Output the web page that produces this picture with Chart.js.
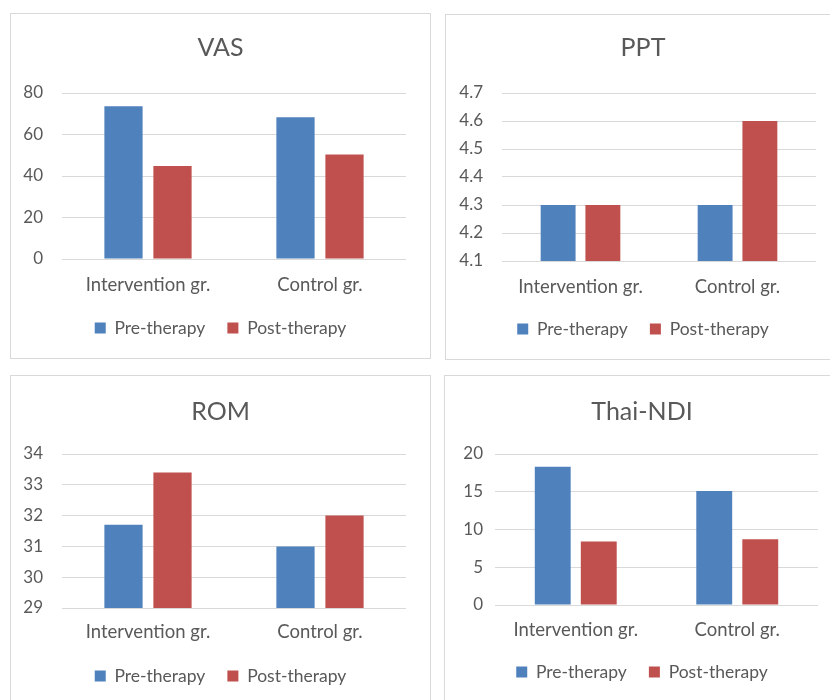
<!DOCTYPE html>
<html>
<head>
<meta charset="utf-8">
<script src="https://cdn.jsdelivr.net/npm/chart.js@4.4.1/dist/chart.umd.min.js"></script>
<style>
  body { margin: 0; width: 830px; height: 700px; overflow: hidden; background: #fff; position: relative; }
  .box { position: absolute; border: 1px solid #d9d9d9; box-sizing: border-box; background: #fff; overflow: hidden; }
  .box canvas { position: absolute; left: 0; top: 0; }
</style>
</head>
<body>
<div class="box" style="left:10px;top:13px;width:421px;height:346px"><canvas id="vas" width="419" height="344"></canvas></div>
<div class="box" style="left:445px;top:14px;width:396px;height:346px"><canvas id="ppt" width="394" height="344"></canvas></div>
<div class="box" style="left:10px;top:375px;width:421px;height:346px"><canvas id="rom" width="419" height="344"></canvas></div>
<div class="box" style="left:444px;top:375px;width:396px;height:346px"><canvas id="ndi" width="394" height="344"></canvas></div>

<script>
// categories and series
var categories = ['Intervention gr.', 'Control gr.'];
var seriesNames = ['Pre-therapy', 'Post-therapy'];

var vasPre = [73.6, 68.3];
var vasPost = [44.8, 50.4];
var pptPre = [4.3, 4.3];
var pptPost = [4.3, 4.6];
var romPre = [31.7, 31.0];
var romPost = [33.4, 32.0];
var ndiPre = [18.3, 15.1];
var ndiPost = [8.4, 8.7];

// y axis ranges: [min, max, step]
var vasAxis = [0, 80, 20];
var pptAxis = [4.1, 4.7, 0.1];
var romAxis = [29, 34, 1];
var ndiAxis = [0, 20, 5];

var blue = '#4F81BD';
var red = '#C0504D';
var textColor = '#595959';
var gridColor = '#D9D9D9';
var fontFamily = 'Lato, "Noto Sans", sans-serif';

Chart.defaults.font.family = fontFamily;
Chart.defaults.color = textColor;

// g: target layout inside the canvas (px)
function makeChart(id, title, pre, post, axis, decimals, g) {
  var canvas = document.getElementById(id);
  var H = canvas.height;
  var W = canvas.width;
  var titleSize = 25, titleLine = titleSize * 1.2;
  var tickSize = 17;
  var labelSize = 18.5, labelLine = labelSize * 1.2;
  var legendSize = 17.5, legendPad = 22;
  var legendH = legendSize + legendPad + 10;
  var xAxisH = g.legend - g.bottom - legendPad - legendSize / 2;
  var titleTop = g.title - titleLine / 2;

  return new Chart(canvas, {
    type: 'bar',
    data: {
      labels: categories,
      datasets: [
        { label: seriesNames[0], data: pre, backgroundColor: blue },
        { label: seriesNames[1], data: post, backgroundColor: red }
      ]
    },
    options: {
      responsive: false,
      animation: false,
      devicePixelRatio: 1,
      datasets: { bar: { categoryPercentage: 0.57, barPercentage: 0.78 } },
      layout: {
        padding: { left: 0, top: 0, right: 0, bottom: H - (g.bottom + xAxisH + legendH) }
      },
      plugins: {
        title: {
          display: true,
          text: title,
          color: textColor,
          font: { size: titleSize, weight: 'normal' },
          padding: { top: titleTop, bottom: g.top - titleTop - titleLine }
        },
        legend: {
          position: 'bottom',
          labels: { boxWidth: 11, boxHeight: 11, padding: legendPad, color: textColor, font: { size: legendSize } }
        },
        tooltip: { enabled: false }
      },
      scales: {
        x: {
          grid: { display: false, drawTicks: false },
          border: { display: false },
          ticks: { color: textColor, font: { size: labelSize }, padding: g.xlabel - g.bottom - labelLine / 2 },
          afterFit: function (s) { s.height = xAxisH; }
        },
        y: {
          min: axis[0],
          max: axis[1],
          grid: { color: gridColor, drawTicks: false },
          border: { display: false },
          ticks: {
            stepSize: axis[2],
            color: textColor,
            font: { size: tickSize },
            padding: g.gap,
            callback: function (v) { return Number(v).toFixed(decimals); }
          },
          afterFit: function (s) { s.width = g.left; }
        },
        // empty right axis, only keeps the right margin so title and legend stay centred on the box
        yRight: {
          position: 'right',
          grid: { display: false, drawTicks: false },
          border: { display: false },
          ticks: { display: false },
          afterFit: function (s) { s.width = W - g.right; }
        }
      }
    }
  });
}

makeChart('vas', 'VAS', vasPre, vasPost, vasAxis, 0,
  { left: 51, right: 395, top: 79, bottom: 245, title: 34, xlabel: 271, legend: 314, gap: 19 });
makeChart('ppt', 'PPT', pptPre, pptPost, pptAxis, 1,
  { left: 56, right: 370, top: 78, bottom: 246, title: 33, xlabel: 272, legend: 314, gap: 19 });
makeChart('rom', 'ROM', romPre, romPost, romAxis, 0,
  { left: 51, right: 395, top: 78, bottom: 232, title: 36, xlabel: 256, legend: 300, gap: 19 });
makeChart('ndi', 'Thai-NDI', ndiPre, ndiPost, ndiAxis, 0,
  { left: 50, right: 373, top: 78, bottom: 229, title: 36, xlabel: 254, legend: 296, gap: 12 });
</script>
</body>
</html>
